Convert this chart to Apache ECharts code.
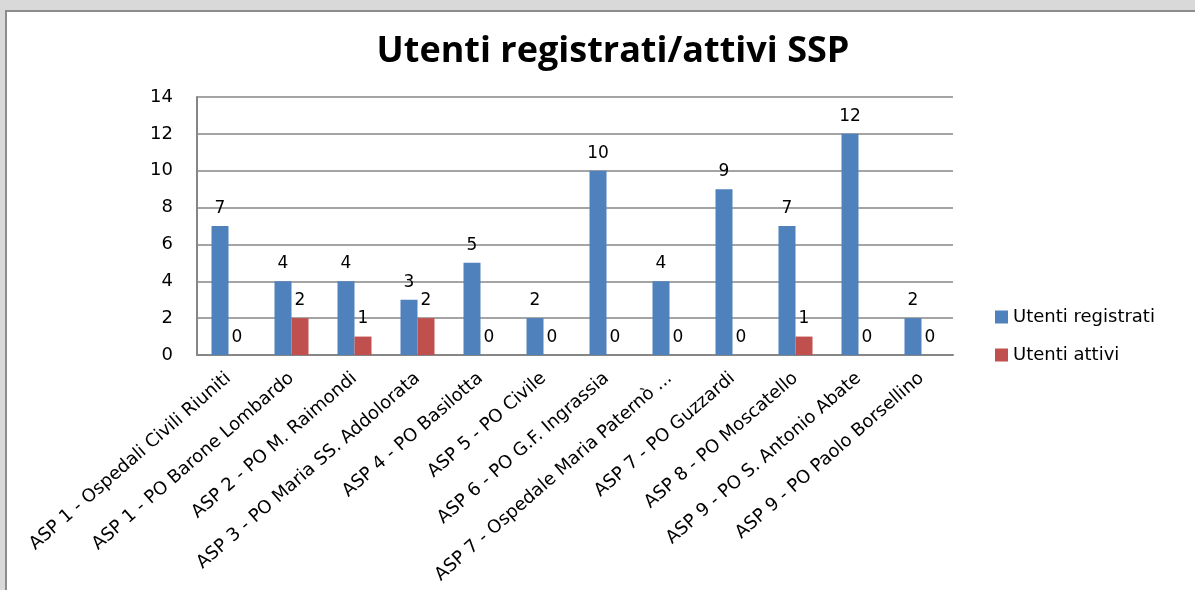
<!DOCTYPE html>
<html>
<head>
<meta charset="utf-8">
<script src="https://cdn.jsdelivr.net/npm/echarts@6/dist/echarts.min.js"></script>
<style>
html,body{margin:0;padding:0;width:1195px;height:590px;overflow:hidden;background:#d9d9d9;}
#frame{position:absolute;left:5px;top:10px;width:1195px;height:590px;background:#fff;border-left:2px solid #8c8c8c;border-top:2px solid #8c8c8c;box-sizing:border-box;}
#chart{position:absolute;left:0;top:0;width:1195px;height:590px;}
</style>
</head>
<body>
<div id="frame"></div>
<div id="chart"></div>
<script>
const categories = [
  "ASP 1 - Ospedali Civili Riuniti",
  "ASP 1 - PO Barone Lombardo",
  "ASP 2 - PO M. Raimondi",
  "ASP 3 - PO Maria SS. Addolorata",
  "ASP 4 - PO Basilotta",
  "ASP 5 - PO Civile",
  "ASP 6 - PO G.F. Ingrassia",
  "ASP 7 - Ospedale Maria Paternò ...",
  "ASP 7 - PO Guzzardi",
  "ASP 8 - PO Moscatello",
  "ASP 9 - PO S. Antonio Abate",
  "ASP 9 - PO Paolo Borsellino"
];
const utentiRegistrati = [7, 4, 4, 3, 5, 2, 10, 4, 9, 7, 12, 2];
const utentiAttivi = [0, 2, 1, 2, 0, 0, 0, 0, 0, 1, 0, 0];
const yTicks = [0, 2, 4, 6, 8, 10, 12, 14];

const chart = echarts.init(document.getElementById('chart'), null, {renderer: 'canvas'});
const labelStyle = {show: true, position: 'top', distance: 9, color: '#000', fontFamily: 'DejaVu Sans', fontSize: 17};
chart.setOption({
  animation: false,
  backgroundColor: 'transparent',
  title: {
    text: 'Utenti registrati/attivi SSP',
    left: 608, top: 29, textAlign: 'center',
    textStyle: {fontFamily: 'Open Sans', fontWeight: 'bold', fontSize: 36, color: '#000'}
  },
  legend: {
    orient: 'vertical', left: 995, top: 308, itemGap: 20, padding: 0,
    itemWidth: 13, itemHeight: 13, icon: 'rect',
    textStyle: {fontFamily: 'DejaVu Sans', fontSize: 18, color: '#000'},
    data: ['Utenti registrati', 'Utenti attivi']
  },
  grid: {left: 197, right: 242, top: 97, bottom: 235, containLabel: false},
  xAxis: {
    type: 'category', data: categories,
    axisLine: {lineStyle: {color: '#868686', width: 2}},
    axisTick: {show: false},
    axisLabel: {rotate: 41, interval: 0, margin: 21, color: '#000', fontFamily: 'DejaVu Sans', fontSize: 18}
  },
  yAxis: {
    type: 'value', min: 0, max: 14, interval: 2,
    axisLine: {show: true, lineStyle: {color: '#868686', width: 2}},
    axisTick: {show: false},
    splitLine: {lineStyle: {color: '#868686', width: 1.5}},
    axisLabel: {margin: 24, color: '#000', fontFamily: 'DejaVu Sans', fontSize: 18,
      formatter: v => yTicks.includes(v) ? String(v) : ''}
  },
  series: [
    {name: 'Utenti registrati', type: 'bar', data: utentiRegistrati, barWidth: 17, barGap: '0%',
     itemStyle: {color: '#4F81BD'}, label: labelStyle},
    {name: 'Utenti attivi', type: 'bar', data: utentiAttivi, barWidth: 17,
     itemStyle: {color: '#C0504D'}, label: labelStyle}
  ]
});
</script>
</body>
</html>
